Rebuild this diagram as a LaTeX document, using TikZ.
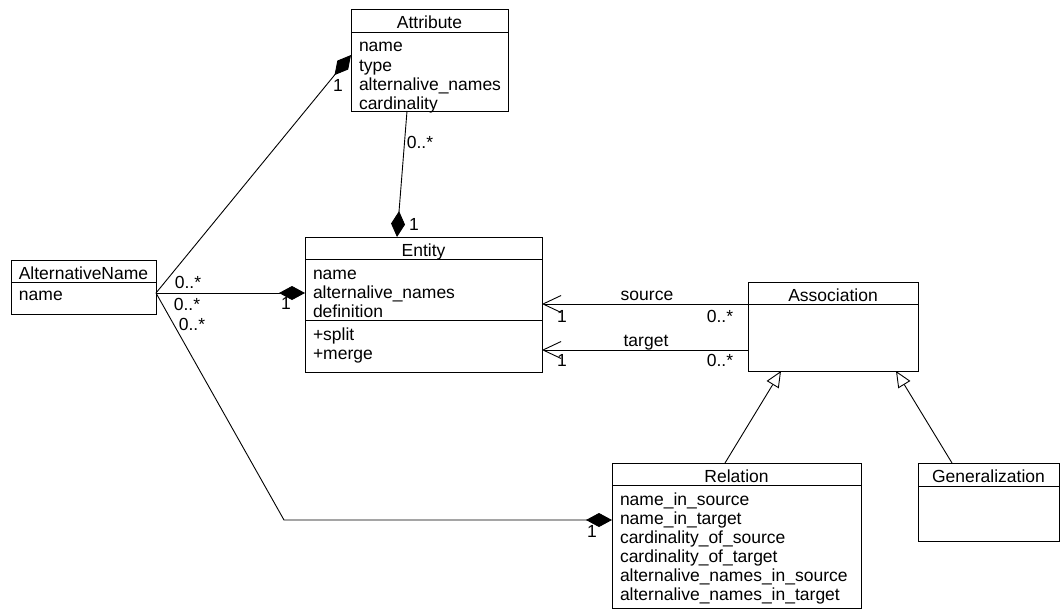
\documentclass[tikz,border=0pt]{standalone}
\usepackage{fontspec}
\setmainfont{Liberation Sans}
\usetikzlibrary{arrows.meta,calc}
\begin{document}
\begin{tikzpicture}[x=1pt,y=-1pt,
  every node/.style={font=\fontsize{17.5}{19}\selectfont, inner sep=0pt, outer sep=0pt},
  umlbox/.style={draw, line width=0.9pt, fill=white, anchor=north west, rectangle},
  hdr/.style={anchor=base},
  fld/.style={anchor=base west},
  lbl/.style={anchor=base},
  conn/.style={line width=0.9pt},
  compose/.style={conn, -{Diamond[length=26pt,width=14pt]}},
  navig/.style={conn, -{Straight Barb[length=18pt,width=17pt]}},
  inherit/.style={conn, -{Triangle[open,length=16pt,width=14pt,fill=white]}}
]
\useasboundingbox (0,0) rectangle (1060,610);

% ---------- classes ----------
% Attribute
\node[umlbox, minimum width=157pt, minimum height=102pt] (attr) at (351,9) {};
\draw[conn] ($(attr.north west)+(0,23)$) -- ($(attr.north east)+(0,23)$);
\node[hdr] (attr-h) at ($(attr.north)+(0,20)$) {Attribute};
\node[fld] (attr-f1) at ($(attr.north west)+(8,43)$) {name};
\node[fld] (attr-f2) at ($(attr.north west)+(8,62)$) {type};
\node[fld] (attr-f3) at ($(attr.north west)+(8,81)$) {alternalive\_names};
\node[fld] (attr-f4) at ($(attr.north west)+(8,100)$) {cardinality};

% Entity
\node[umlbox, minimum width=237pt, minimum height=135pt] (ent) at (305,237) {};
\draw[conn] ($(ent.north west)+(0,22)$) -- ($(ent.north east)+(0,22)$);
\draw[conn] ($(ent.north west)+(0,83)$) -- ($(ent.north east)+(0,83)$);
\node[hdr] (ent-h) at ($(ent.north)+(0,19)$) {Entity};
\node[fld] (ent-f1) at ($(ent.north west)+(8,42)$) {name};
\node[fld] (ent-f2) at ($(ent.north west)+(8,61)$) {alternalive\_names};
\node[fld] (ent-f3) at ($(ent.north west)+(8,80)$) {definition};
\node[fld] (ent-m1) at ($(ent.north west)+(8,103)$) {+split};
\node[fld] (ent-m2) at ($(ent.north west)+(8,122)$) {+merge};

% AlternativeName
\node[umlbox, minimum width=145pt, minimum height=54pt] (alt) at (11,260) {};
\draw[conn] ($(alt.north west)+(0,22)$) -- ($(alt.north east)+(0,22)$);
\node[hdr] (alt-h) at ($(alt.north)+(0,19)$) {AlternativeName};
\node[fld] (alt-f1) at ($(alt.north west)+(8,40)$) {name};

% Association
\node[umlbox, minimum width=170pt, minimum height=89pt] (assoc) at (748,282) {};
\draw[conn] ($(assoc.north west)+(0,22)$) -- ($(assoc.north east)+(0,22)$);
\node[hdr] (assoc-h) at ($(assoc.north)+(0,19)$) {Association};

% Relation
\node[umlbox, minimum width=249pt, minimum height=145pt] (rel) at (612,463) {};
\draw[conn] ($(rel.north west)+(0,22)$) -- ($(rel.north east)+(0,22)$);
\node[hdr] (rel-h) at ($(rel.north)+(0,19)$) {Relation};
\node[fld] (rel-f1) at ($(rel.north west)+(8,42)$) {name\_in\_source};
\node[fld] (rel-f2) at ($(rel.north west)+(8,61)$) {name\_in\_target};
\node[fld] (rel-f3) at ($(rel.north west)+(8,80)$) {cardinality\_of\_source};
\node[fld] (rel-f4) at ($(rel.north west)+(8,99)$) {cardinality\_of\_target};
\node[fld] (rel-f5) at ($(rel.north west)+(8,118)$) {alternalive\_names\_in\_source};
\node[fld] (rel-f6) at ($(rel.north west)+(8,137)$) {alternalive\_names\_in\_target};

% Generalization
\node[umlbox, minimum width=141pt, minimum height=78pt] (gen) at (918,463) {};
\draw[conn] ($(gen.north west)+(0,23)$) -- ($(gen.north east)+(0,23)$);
\node[hdr] (gen-h) at ($(gen.north)+(0,19)$) {Generalization};

% ---------- connectors ----------
\coordinate (alt-r) at ($(alt.north east)+(0,33)$);
\coordinate (bend) at (284,520);

\draw[compose] (alt-r) -- ($(attr.north west)+(0,46)$);
\draw[compose] (alt-r) -- ($(ent.north west)+(0,56)$);
\draw[compose] (alt-r) -- (bend) -- ($(rel.north west)+(0,57)$);
\draw[compose] ($(attr.south west)+(56,0)$) -- ($(ent.north west)+(92,0)$);

\draw[navig] ($(assoc.north west)+(0,22)$) -- ($(ent.north east)+(0,67)$);
\draw[navig] ($(assoc.north west)+(0,68)$) -- ($(ent.north east)+(0,113)$);

\draw[inherit] ($(rel.north west)+(113,0)$) -- ($(assoc.south west)+(33,0)$);
\draw[inherit] ($(gen.north west)+(34,0)$) -- ($(assoc.south west)+(148,0)$);

% ---------- multiplicities and roles ----------
\node[lbl] (m1) at (188,288) {0..*};
\node[lbl] (m2) at (187,310) {0..*};
\node[lbl] (m3) at (192,330) {0..*};
\node[lbl] (m4) at (338,92) {1};
\node[lbl] (m5) at (420,148) {0..*};
\node[lbl] (m6) at (414,230) {1};
\node[lbl] (m7) at (286,309) {1};
\node[lbl] (m8) at (592,537) {1};
\node[lbl] (r1) at (647,300) {source};
\node[lbl] (m9) at (562,322) {1};
\node[lbl] (m10) at (720,322) {0..*};
\node[lbl] (r2) at (646,346) {target};
\node[lbl] (m11) at (562,366) {1};
\node[lbl] (m12) at (720,366) {0..*};
\end{tikzpicture}
\end{document}
